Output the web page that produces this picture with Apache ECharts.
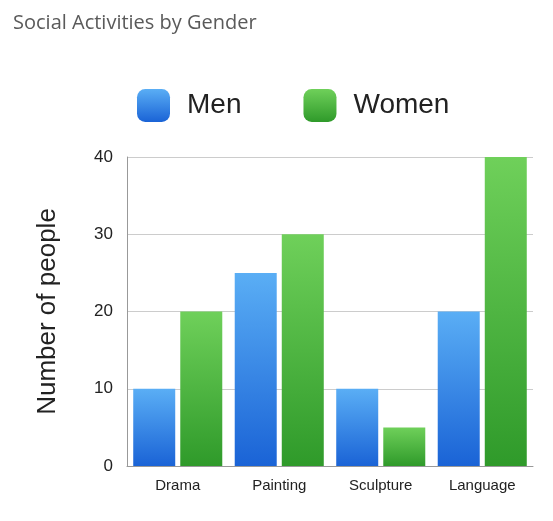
<!DOCTYPE html>
<html><head><meta charset="utf-8">
<script src="https://cdn.jsdelivr.net/npm/echarts@6/dist/echarts.min.js"></script>
<style>html,body{margin:0;padding:0;background:#fff}#c{width:553px;height:521px}</style>
</head><body><div id="c"></div>
<script>
const categories = ['Drama','Painting','Sculpture','Language'];
const men = [10,25,10,20];
const women = [20,30,5,40];
const yTicks = [0,10,20,30,40];

const blue = new echarts.graphic.LinearGradient(0,0,0,1,[{offset:0,color:'#5aaef5'},{offset:1,color:'#1a63d6'}]);
const green = new echarts.graphic.LinearGradient(0,0,0,1,[{offset:0,color:'#6fd05a'},{offset:1,color:'#2f9a2a'}]);
const chart = echarts.init(document.getElementById('c'));
chart.setOption({
  animation:false,
  title:{text:'Social Activities by Gender',left:8,top:8,textStyle:{color:'#5a5a5a',fontSize:20,fontWeight:'normal',fontFamily:'Open Sans'}},
  legend:{top:84,left:132,itemWidth:33,itemHeight:33,itemGap:62,
    textStyle:{fontSize:28,color:'#222',fontFamily:'Liberation Sans',padding:[0,0,0,12]},
    data:[{name:'Men',itemStyle:{color:blue}},{name:'Women',itemStyle:{color:green}}]},
  grid:{left:127,right:20,top:157,bottom:55},
  xAxis:{type:'category',data:categories,
    axisLine:{lineStyle:{color:'#999'}},axisTick:{show:false},
    axisLabel:{fontSize:15,color:'#222',margin:12,fontFamily:'Liberation Sans'}},
  yAxis:{type:'value',min:0,max:40,interval:10,name:'Number of people',nameLocation:'middle',nameGap:66,
    nameTextStyle:{fontSize:26,color:'#222',fontFamily:'Liberation Sans'},
    axisLine:{show:true,lineStyle:{color:'#999'}},
    axisLabel:{fontSize:17,color:'#222',margin:14,fontFamily:'Liberation Sans',
      formatter:v=>yTicks.includes(v)?String(v):''},
    splitLine:{lineStyle:{color:'#ccc'}}},
  series:[
    {name:'Men',type:'bar',data:men,barWidth:42,barGap:'12%',itemStyle:{color:blue}},
    {name:'Women',type:'bar',data:women,barWidth:42,itemStyle:{color:green}}
  ]
});
</script></body></html>
